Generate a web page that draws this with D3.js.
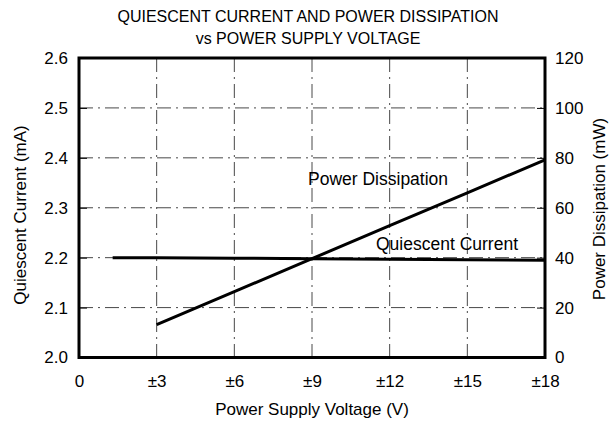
<html>
<meta charset="utf-8">
<title>Quiescent Current and Power Dissipation</title>
<style>
  body { margin: 0; background: #fff; }
  text { font-family: "Liberation Sans", Arial, sans-serif; fill: #000; }
</style>
<body>
<div id="chartContainer"></div>
<script src="https://d3js.org/d3.v7.min.js"></script>
<script type="text/javascript">
// data
var voltageTicks = [0, 3, 6, 9, 12, 15, 18];
var voltageLabels = ["0", "±3", "±6", "±9", "±12", "±15", "±18"];
var currentTicks = [2.0, 2.1, 2.2, 2.3, 2.4, 2.5, 2.6];
var powerTicks = [0, 20, 40, 60, 80, 100, 120];

var currentV = [1.3, 3, 6, 9, 12, 15, 18];
var currentMA = [2.2, 2.2, 2.199, 2.198, 2.197, 2.196, 2.195];

var powerV = [3, 6, 9, 12, 15, 18];
var powerMW = [13.2, 26.4, 39.6, 52.8, 66, 79.2];

var W = 614, H = 423;
var margin = {left: 79, right: 69, top: 58, bottom: 65.5};

var svg = d3.select("#chartContainer").append("svg")
  .attr("width", W).attr("height", H);

var x = d3.scaleLinear().domain([0, 18]).range([margin.left, W - margin.right]);
var yL = d3.scaleLinear().domain([2.0, 2.6]).range([H - margin.bottom, margin.top]);
var yR = d3.scaleLinear().domain([0, 120]).range([H - margin.bottom, margin.top]);

// grid - dash dot like the scanned sheet
var grid = svg.append("g")
  .style("stroke", "#333")
  .style("stroke-width", 0.9)
  .style("stroke-dasharray", "14,5,2,5");

grid.selectAll("line.v")
  .data(voltageTicks.slice(1, -1))
  .enter().append("line")
  .attr("x1", d => x(d)).attr("x2", d => x(d))
  .attr("y1", yL(2.6)).attr("y2", yL(2.0));

grid.selectAll("line.h")
  .data(currentTicks.slice(1, -1))
  .enter().append("line")
  .attr("x1", x(0)).attr("x2", x(18))
  .attr("y1", d => yL(d)).attr("y2", d => yL(d));

// axes
var xAxis = d3.axisBottom(x).tickValues(voltageTicks)
  .tickFormat((d, i) => voltageLabels[i]).tickSize(0).tickPadding(17);
var yAxisL = d3.axisLeft(yL).tickValues(currentTicks)
  .tickFormat(d3.format(".1f")).tickSizeInner(-8).tickSizeOuter(0).tickPadding(11);
var yAxisR = d3.axisRight(yR).tickValues(powerTicks)
  .tickSizeInner(-8).tickSizeOuter(0).tickPadding(10);

function styleAxis(g) {
  g.selectAll("text").style("font-size", "17px")
    .style("font-family", "'Liberation Sans', Arial, sans-serif");
  g.selectAll(".tick line").style("stroke", "#000").style("stroke-width", 1);
  g.select("path.domain").remove();
}

svg.append("g").attr("transform", "translate(0," + yL(2.0) + ")").call(xAxis).call(styleAxis);
svg.append("g").attr("transform", "translate(" + x(0) + ",0)").call(yAxisL).call(styleAxis);
svg.append("g").attr("transform", "translate(" + x(18) + ",0)").call(yAxisR).call(styleAxis);

// frame
svg.append("rect")
  .attr("x", x(0)).attr("y", yL(2.6))
  .attr("width", x(18) - x(0)).attr("height", yL(2.0) - yL(2.6))
  .style("fill", "none").style("stroke", "#000").style("stroke-width", 3);

// curves
var lineI = d3.line().x(d => x(d[0])).y(d => yL(d[1]));
var lineP = d3.line().x(d => x(d[0])).y(d => yR(d[1]));

svg.append("path")
  .datum(currentV.map((v, i) => [v, currentMA[i]]))
  .attr("d", lineI)
  .style("fill", "none").style("stroke", "#000").style("stroke-width", 3);

svg.append("path")
  .datum(powerV.map((v, i) => [v, powerMW[i]]))
  .attr("d", lineP)
  .style("fill", "none").style("stroke", "#000").style("stroke-width", 3);

// curve labels
svg.append("text").attr("x", 308).attr("y", 185)
  .style("font-size", "17.5px").text("Power Dissipation");
svg.append("text").attr("x", 518).attr("y", 250).attr("text-anchor", "end")
  .style("font-size", "17.5px").text("Quiescent Current");

// titles
svg.append("text").attr("x", 308).attr("y", 22).attr("text-anchor", "middle")
  .style("font-size", "16px").text("QUIESCENT CURRENT AND POWER DISSIPATION");
svg.append("text").attr("x", 308).attr("y", 44).attr("text-anchor", "middle")
  .style("font-size", "16px").text("vs POWER SUPPLY VOLTAGE");

svg.append("text").attr("x", 312).attr("y", 415).attr("text-anchor", "middle")
  .style("font-size", "17px").text("Power Supply Voltage (V)");

svg.append("text")
  .attr("transform", "translate(26,215) rotate(-90)")
  .attr("text-anchor", "middle")
  .style("font-size", "17px").text("Quiescent Current (mA)");

svg.append("text")
  .attr("transform", "translate(605,209) rotate(-90)")
  .attr("text-anchor", "middle")
  .style("font-size", "17px").text("Power Dissipation (mW)");
</script>
</body>
</html>
